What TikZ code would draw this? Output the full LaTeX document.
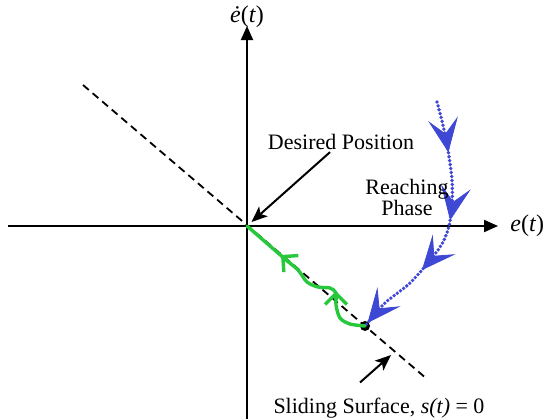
\documentclass[tikz,border=0pt]{standalone}
\usepackage{fontspec}
\setmainfont{Liberation Serif}
\usetikzlibrary{arrows.meta, decorations.markings, positioning, calc}
\definecolor{reachblue}{RGB}{62,72,212}
\definecolor{slidegreen}{RGB}{40,200,60}
\tikzset{
  bigtip/.tip={Stealth[length=17pt,width=15pt,inset=7.5pt,color=reachblue]},
  barbtip/.tip={Straight Barb[length=5.5pt,width=11pt]},
  axis/.style={line width=1pt, -{Triangle[length=7pt,width=6pt]}},
  surface/.style={line width=0.9pt, dash pattern=on 3.8pt off 2.5pt},
  reach/.style={reachblue, line width=1.9pt, line cap=round, dash pattern=on 0pt off 2pt},
  reachtips/.style={reachblue, decorate, decoration={markings,
      mark=at position 0.2 with {\arrow{bigtip}},
      mark=at position 0.465 with {\arrow{bigtip}},
      mark=at position 0.69 with {\arrow{bigtip}},
      mark=at position 0.985 with {\arrow{bigtip}}}},
  slide/.style={slidegreen, line width=1.7pt, line cap=round},
  pointer/.style={line width=1pt, -{Stealth[length=8pt,width=6.5pt,inset=2pt]}},
  lbl/.style={font=\fontsize{11}{11.5}\selectfont, align=center, inner sep=1pt},
  axlbl/.style={font=\fontsize{12}{14}\selectfont, inner sep=1pt},
}
\begin{document}
\begin{tikzpicture}[x=0.5pt, y=-0.5pt]
\useasboundingbox (0,0) rectangle (546,419);
\coordinate (O) at (247,226);
\coordinate (xstart) at (8,226);
\coordinate (xend) at (498,226);
\coordinate (ystart) at (247,419);
\coordinate (yend) at (247,26);
\coordinate (sa) at (83,85);
\coordinate (sb) at (427,379);
\coordinate (sp) at (391,355);
\coordinate (g1a) at (336,299);
\coordinate (g1b) at (336,291);
\coordinate (g2a) at (289,262);
\coordinate (g2b) at (281,255);

\draw[axis] (xstart) -- (xend);
\draw[axis] (ystart) -- (yend);
\node[axlbl, right=5pt of xend] (xlab) {\textit{e}(\textit{t})};
\node[axlbl, above=-2pt of yend] (ylab) {\textit{ė}(\textit{t})};

\draw[surface] (sa) -- (sb);
\node[circle, fill, inner sep=0pt, minimum size=5pt] (S) at (365,326) {};

\draw[reach] plot[smooth] coordinates {(437,102) (443,125) (448,150) (452,180) (452,205) (449,226) (443,242) (432,258) (410,283) (385,303) (S.center)};
\path[reachtips] plot[smooth] coordinates {(437,102) (443,125) (448,150) (452,180) (452,205) (449,226) (443,242) (432,258) (410,283) (385,303) (S.center)};
\draw[slide] plot[smooth] coordinates {(S.center) (350,324) (340,318) (336,305) (336,293) (330,288) (318,287) (307,282) (298,270) (285,259) (O)};
\draw[slide, -{barbtip}] (g1a) -- (g1b);
\draw[slide, -{barbtip}] (g2a) -- (g2b);

\node[lbl] (dp) at (341,142) {Desired Position};
\draw[pointer, shorten >=3pt] ($(dp.south)+(-11,0)$) -- (O);
\node[lbl, font=\fontsize{11}{10.5}\selectfont] (rp) at (407,197) {Reaching\\Phase};
\node[lbl] (ss) at (379,408) {Sliding Surface, \textit{s(t)} = 0};
\draw[pointer] ($(ss.north)+(-19,-13)$) -- (sp);
\end{tikzpicture}
\end{document}
